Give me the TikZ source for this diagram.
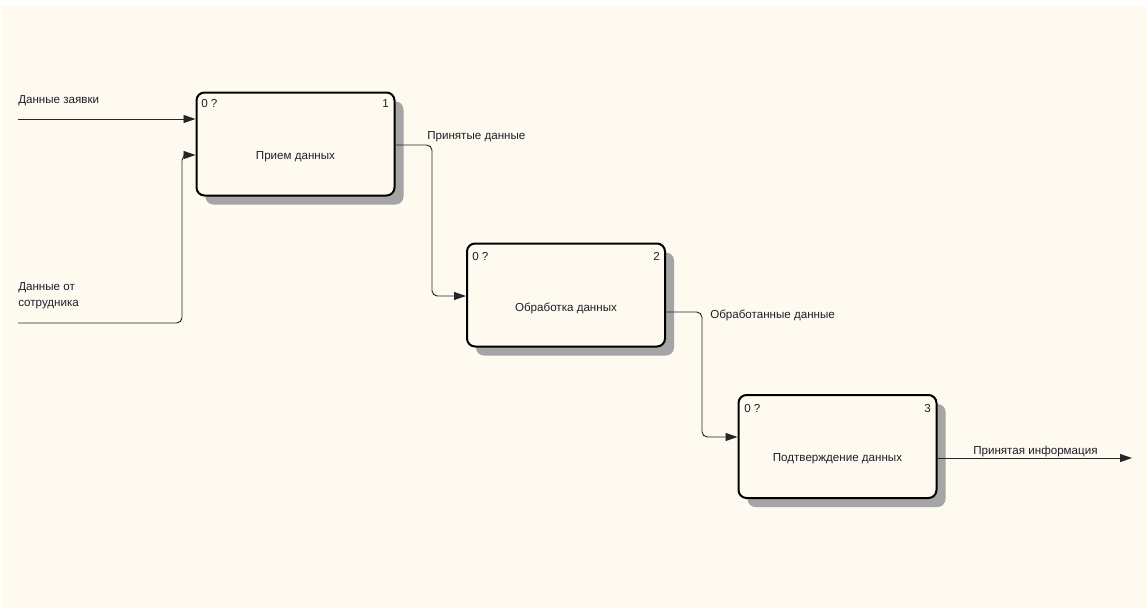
\documentclass[tikz,border=0pt]{standalone}
\usepackage{fontspec}
\setmainfont{Liberation Sans}
\usetikzlibrary{arrows.meta,shadows}
\definecolor{paper}{RGB}{255,250,240}
\definecolor{shade}{RGB}{165,165,165}
\definecolor{ink}{RGB}{30,30,40}
\begin{document}
\begin{tikzpicture}[x=0.75pt,y=-0.75pt,
  font=\fontsize{8.7}{12}\selectfont,
  every node/.style={text=ink},
  fn/.style={draw=black, line width=1.5pt, rounded corners=6pt, fill=paper,
    minimum width=148.5pt, minimum height=77.25pt, inner sep=0pt,
    drop shadow={shadow xshift=6.75pt, shadow yshift=-6.75pt, fill=shade, opacity=1}},
  flow/.style={draw=black!85, line width=0.7pt, rounded corners=4pt},
  arr/.style={flow, -{Triangle[length=9pt,width=6pt]}},
  lbl/.style={anchor=west, inner sep=0pt}
]
% page
\useasboundingbox (0,0) rectangle (1147,608);
\fill[paper] (2,6) rectangle (1147,608);

% function boxes
\node[fn] (b1) at (295.5,144) {};
\node[fn] (b2) at (566,295) {};
\node[fn] (b3) at (837.5,446.5) {};

% box texts
\node (t1) at (295.5,157) {Прием данных};
\node (t2) at (566,308) {Обработка данных};
\node (t3) at (837.5,459) {Подтверждение данных};

\node[lbl] (c1) at (201,104) {0 ?};
\node[anchor=east, inner sep=0pt] (n1) at (389,104) {1};
\node[lbl] (c2) at (472,256) {0 ?};
\node[anchor=east, inner sep=0pt] (n2) at (660,256) {2};
\node[lbl] (c3) at (744,408) {0 ?};
\node[anchor=east, inner sep=0pt] (n3) at (931,408) {3};

% free ends
\coordinate (i1) at (18,119);
\coordinate (i2) at (18,323);
\coordinate (o3) at (1132,458);

% connectors
\draw[arr] (i1) -- (b1.west |- i1);
\draw[arr] (i2) -| (182,155) -- (b1.west |- 0,155);
\draw[arr] (b1.east |- 0,145) -| (432,200) |- (b2.west |- 0,296);
\draw[arr] (b2.east |- 0,312) -| (702,380) |- (b3.west |- 0,437);
\draw[arr] (b3.east |- o3) -- (o3);

% arrow labels
\node[lbl] (l1) at (18,101) {Данные заявки};
\node[lbl, align=left] (l2) at (18,296) {Данные от\\сотрудника};
\node[lbl] (l3) at (427,137) {Принятые данные};
\node[lbl] (l4) at (710,315) {Обработанные данные};
\node[lbl] (l5) at (973,451) {Принятая информация};
\end{tikzpicture}
\end{document}
